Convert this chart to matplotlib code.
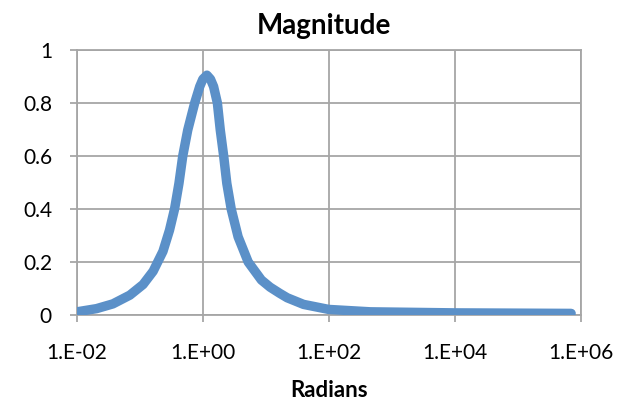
import numpy as np
import matplotlib
matplotlib.use('Agg')
import matplotlib.pyplot as plt

# values (radians, magnitude)
radians = [0.01, 0.0204, 0.0372, 0.0692, 0.112, 0.162, 0.232, 0.295, 0.355,
           0.417, 0.479, 0.575, 0.741, 0.891, 1.0, 1.16, 1.32, 1.48, 1.70,
           1.89, 2.14, 2.40, 2.82, 3.63, 5.25, 8.51, 11.7, 16.6, 21.9, 39.8,
           100.0, 457.0, 1.0e4, 7.1e5]
magnitude = [0.012, 0.024, 0.042, 0.075, 0.115, 0.165, 0.24, 0.32, 0.4,
             0.497, 0.6, 0.698, 0.8, 0.862, 0.89, 0.905, 0.89, 0.862, 0.8,
             0.698, 0.6, 0.497, 0.4, 0.295, 0.2, 0.132, 0.105, 0.082, 0.065,
             0.04, 0.021, 0.012, 0.008, 0.006]

xtick_vals = [1e-2, 1e0, 1e2, 1e4, 1e6]
xtick_labels = ['1.E-02', '1.E+00', '1.E+02', '1.E+04', '1.E+06']
ytick_vals = [0, 0.2, 0.4, 0.6, 0.8, 1]
ytick_labels = ['0', '0.2', '0.4', '0.6', '0.8', '1']

plt.rcParams['font.family'] = ['Lato', 'DejaVu Sans']

W, H = 619, 403
fig = plt.figure(figsize=(W / 100, H / 100), dpi=100)
# plot area in pixels: x 77..580.5, y 50..315
ax = fig.add_axes([77 / W, 1 - 315 / H, 503.5 / W, 265 / H])

grid_col = '#a6a6a6'
ax.plot(radians, magnitude, color='#5b90c8', linewidth=6.8,
        solid_capstyle='round', solid_joinstyle='round', zorder=3)

ax.set_xscale('log')
ax.set_xlim(1e-2, 1e6)
ax.set_ylim(0, 1)
ax.set_xticks(xtick_vals)
ax.set_xticklabels(xtick_labels)
ax.xaxis.set_minor_locator(matplotlib.ticker.NullLocator())
ax.set_yticks(ytick_vals)
ax.set_yticklabels(ytick_labels)

ax.grid(True, color=grid_col, linewidth=1.3)
ax.set_axisbelow(True)
for s in ax.spines.values():
    s.set_color(grid_col)
    s.set_linewidth(1.3)
ax.tick_params(axis='both', color=grid_col, width=1.3, length=5,
               labelsize=15, colors='black')
ax.tick_params(axis='x', pad=15)
ax.tick_params(axis='y', pad=13)

fig.text(323.7 / W, 1 - 33.8 / H, 'Magnitude', fontsize=20, fontweight='bold',
         ha='center', va='baseline')
fig.text(328.7 / W, 1 - 397 / H, 'Radians', fontsize=16, fontweight='bold',
         ha='center', va='baseline')

fig.savefig('out.png', dpi=100)
